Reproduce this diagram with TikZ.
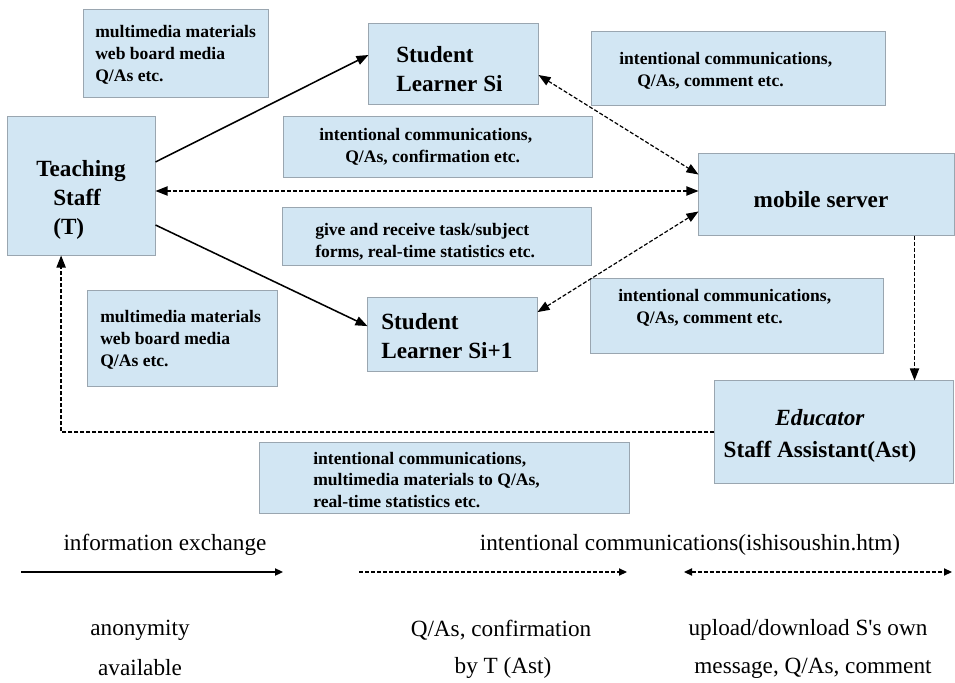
\documentclass[tikz,border=0pt]{standalone}
\usepackage{fontspec}
\setmainfont{Liberation Serif}
\usetikzlibrary{arrows.meta}
\definecolor{boxblue}{HTML}{D2E6F3}
\definecolor{boxline}{HTML}{9AA6B0}
\begin{document}
\begin{tikzpicture}[x=0.025cm, y=-0.025cm]
		\tikzset{box/.style = {draw=boxline, fill=boxblue, line width=0.7pt, inner sep=0pt},
			small/.style = {inner sep=0pt, align=left, anchor=west, font=\bfseries\fontsize{12.5}{15.6}\selectfont},
			big/.style = {inner sep=0pt, align=left, anchor=west, font=\bfseries\fontsize{16.5}{20.5}\selectfont},
			legend/.style = {inner sep=0pt, font=\fontsize{16.5}{20}\selectfont},
			info/.style = {line width=1.1pt, -{Triangle[length=3mm, width=2.3mm]}},
			intent/.style = {line width=0.85pt, dash pattern=on 1mm off 0.5mm, -{Triangle[length=3mm, width=2.3mm]}},
			both/.style = {intent, {Triangle[length=3mm, width=2.3mm]}-{Triangle[length=3mm, width=2.3mm]}}}

		\useasboundingbox (0,0) rectangle (955,683);

		% boxes
		\node[box, minimum width=46mm, minimum height=21.75mm] (MM_1) at (176,53.5) {};
		\node[box, minimum width=36.75mm, minimum height=34.5mm] (T) at (81.5,186) {};
		\node[box, minimum width=42.25mm, minimum height=20mm] (S_1) at (453.5,64) {};
		\node[box, minimum width=73.25mm, minimum height=18.25mm] (IC_1) at (738.5,68.5) {};
		\node[box, minimum width=77mm, minimum height=15mm] (IC_2) at (438,147) {};
		\node[box, minimum width=77mm, minimum height=14.5mm] (GR) at (437,236) {};
		\node[box, minimum width=63.75mm, minimum height=20.25mm] (MS) at (826.5,194.5) {};
		\node[box, minimum width=47.25mm, minimum height=23.75mm] (MM_2) at (182.5,338.5) {};
		\node[box, minimum width=42.25mm, minimum height=18.25mm] (S_2) at (452.5,334.5) {};
		\node[box, minimum width=73mm, minimum height=18.5mm] (IC_3) at (737,316) {};
		\node[box, minimum width=59.5mm, minimum height=25.5mm] (Ed) at (834,432) {};
		\node[box, minimum width=92.25mm, minimum height=17.75mm] (IC_4) at (444.5,477.5) {};

		% texts
		\node[small] (MM_1t) at (95,55) {multimedia materials\\web board media\\Q/As etc.};
		\node[big] (Tt) at (36,200) {Teaching\\\hspace*{4.25mm}Staff\\\hspace*{4.25mm}(T)};
		\node[big] (S_1t) at (396,69) {Student\\Learner Si};
		\node[small] (IC_1t) at (619,71) {intentional communications,\\\hspace*{4.5mm}Q/As, comment etc.};
		\node[small] (IC_2t) at (319,146.5) {intentional communications,\\\hspace*{6.5mm}Q/As, confirmation etc.};
		\node[small] (GRt) at (315,242) {give and receive task/subject\\forms, real-time statistics etc.};
		\node[big, anchor=center] (MSt) at (821,200) {mobile server};
		\node[small] (MM_2t) at (100,340) {multimedia materials\\web board media\\Q/As etc.};
		\node[big] (S_2t) at (381,336) {Student\\Learner Si+1};
		\node[small] (IC_3t) at (618,307.5) {intentional communications,\\\hspace*{4.5mm}Q/As, comment etc.};
		\node[big, anchor=center, align=center, font=\bfseries\fontsize{16.5}{22.5}\selectfont] (Edt) at (820,436) {\textit{Educator}\\Staff Assistant(Ast)};
		\node[small] (IC_4t) at (313,480) {intentional communications,\\multimedia materials to Q/As,\\real-time statistics etc.};

		% connectors
		\draw[info] ([yshift=6mm]T.east) -- ([yshift=2.25mm]S_1.west);
		\draw[info] ([yshift=-9.75mm]T.east) -- ([yshift=2.1mm]S_2.west);
		\coordinate (t_1) at ([yshift=-1.25mm]T.east);
		\draw[both] (t_1) -- (t_1 -| MS.west);
		\draw[both] ([yshift=-2.75mm]S_1.east) -- ([yshift=5mm]MS.west);
		\draw[both] ([yshift=5.6mm]S_2.east) -- ([yshift=-4.25mm]MS.west);
		\coordinate (m_1) at ([xshift=22mm]MS.south);
		\draw[intent] (m_1) -- (m_1 |- Ed.north);
		\draw[intent] (Ed.west) -| ([xshift=-5.1mm]T.south);

		% legend
		\node[legend] (L_1) at (165,545) {information exchange};
		\node[legend] (L_2) at (690,545) {intentional communications(ishisoushin.htm)};
		\coordinate (a_1) at (21,572);
		\coordinate (a_2) at (283,572);
		\coordinate (b_1) at (359,572);
		\coordinate (b_2) at (627,572);
		\coordinate (c_1) at (684,572);
		\coordinate (c_2) at (952,572);
		\draw[info, -{Triangle[length=2mm, width=1.8mm]}] (a_1) -- (a_2);
		\draw[intent, -{Triangle[length=2mm, width=1.8mm]}] (b_1) -- (b_2);
		\draw[intent, {Triangle[length=2mm, width=1.8mm]}-{Triangle[length=2mm, width=1.8mm]}] (c_1) -- (c_2);
		\node[legend] (A_1) at (140,630) {anonymity};
		\node[legend] (A_2) at (140,668) {available};
		\node[legend] (B_1) at (501,630) {Q/As, confirmation};
		\node[legend] (B_2) at (503,668) {by T (Ast)};
		\node[legend] (C_1) at (808,630) {upload/download S\textquotesingle s own};
		\node[legend] (C_2) at (813,668) {message, Q/As, comment};

	\end{tikzpicture}
\end{document}
